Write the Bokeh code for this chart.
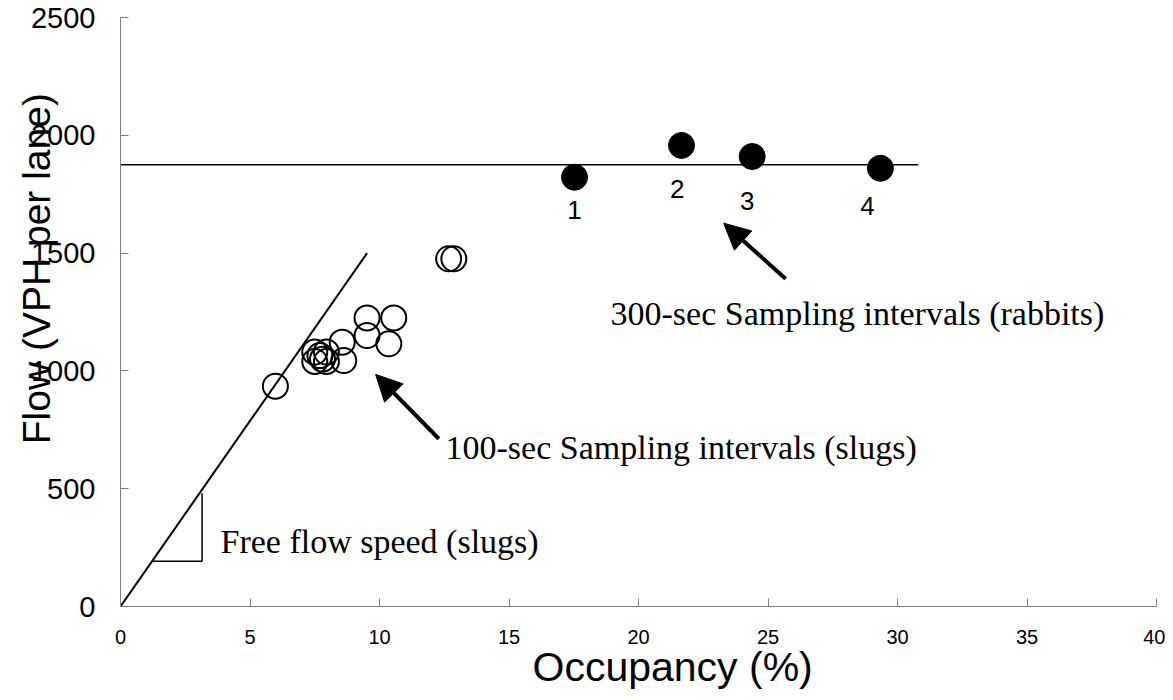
from bokeh.plotting import figure
from bokeh.models import Label, Arrow, NormalHead, Range1d, FixedTicker, ColumnDataSource, Title
from bokeh.core.properties import value
from bokeh.embed import file_html
from bokeh.resources import INLINE

# ---- data ----
slug_occ = [5.98, 7.5, 7.5, 7.95, 7.95, 7.7, 7.8, 8.56, 8.62, 9.52, 9.52, 10.55, 10.36, 12.67, 12.87]
slug_flow = [935, 1080, 1040, 1080, 1040, 1065, 1050, 1122, 1044, 1225, 1150, 1225, 1115, 1476, 1476]

rabbit_occ = [17.53, 21.66, 24.39, 29.34]
rabbit_flow = [1822, 1957, 1910, 1860]
rabbit_ids = ["1", "2", "3", "4"]
id_occ = [17.53, 21.5, 24.2, 28.84]
id_flow = [1681, 1774, 1723, 1702]

capacity_occ = [0, 30.8]
capacity_flow = [1875, 1875]

ffs_occ = [0, 9.52]
ffs_flow = [0, 1500]

tri_occ = [1.22, 3.15, 3.15]
tri_flow = [192, 192, 481]

x_ticks = [0, 5, 10, 15, 20, 25, 30, 35, 40]
y_ticks = [0, 500, 1000, 1500, 2000, 2500]

x_title = "Occupancy (%)"
y_title = "Flow (VPH per lane)"

# annotation anchors (data units)
slug_arrow = dict(x_start=12.29, y_start=712, x_end=9.85, y_end=985)
rabbit_arrow = dict(x_start=25.68, y_start=1391, x_end=23.29, y_end=1627)
notes = [
    ("300-sec Sampling intervals (rabbits)", 18.92, 1244),
    ("100-sec Sampling intervals (slugs)", 12.55, 675),
    ("Free flow speed (slugs)", 3.86, 275),
]

SANS = "Liberation Sans"
SERIF = "Liberation Serif"
NBSP = "\u00a0"

p = figure(width=1165, height=694,
           x_range=Range1d(0, 40), y_range=Range1d(0, 2500),
           output_backend="svg", toolbar_location=None,
           min_border_left=120, min_border_right=9,
           min_border_top=17, min_border_bottom=88)
p.grid.visible = False
p.outline_line_color = None
p.background_fill_color = "white"
p.border_fill_color = "white"

for ax, ticks in ((p.xaxis, x_ticks), (p.yaxis, y_ticks)):
    ax.ticker = FixedTicker(ticks=ticks)
    ax.minor_tick_line_color = None
    ax.axis_line_color = "#808080"
    ax.major_tick_line_color = "#808080"
    ax.major_tick_in = 8
    ax.major_tick_out = 0
    ax.major_label_text_font = SANS
    ax.major_label_text_color = "black"

p.xaxis.major_label_text_font_size = "20px"
p.xaxis.major_label_standoff = 23
p.yaxis.major_label_text_font_size = "29px"
p.yaxis.major_label_standoff = 25

# y title overlapping the tick labels and sitting above the frame centre, as in the reference
p.yaxis.axis_label = NBSP * 8 + y_title
p.yaxis.axis_label_text_font = SANS
p.yaxis.axis_label_text_font_style = "normal"
p.yaxis.axis_label_text_font_size = "39px"
p.yaxis.axis_label_text_color = "black"
p.yaxis.axis_label_standoff = -30

# x title
p.add_layout(Title(text=x_title, align="left", offset=412, text_font=SANS,
                   text_font_style="normal", text_font_size="41px",
                   text_color="black", standoff=-10), "below")

# lines
p.line(capacity_occ, capacity_flow, line_color="black", line_width=1.5)
p.line(ffs_occ, ffs_flow, line_color="black", line_width=2)
p.line(tri_occ, tri_flow, line_color="black", line_width=1.5)

# points
p.scatter(slug_occ, slug_flow, marker="circle", size=25,
          fill_color=None, line_color="black", line_width=2)
p.scatter(rabbit_occ, rabbit_flow, marker="circle", size=26,
          fill_color="black", line_color="black")

src = ColumnDataSource(dict(x=id_occ, y=id_flow, t=rabbit_ids))
p.text(x="x", y="y", text="t", source=src, text_font=value(SANS),
       text_font_size="26px", text_align="center", text_baseline="middle",
       text_color="black")

# arrows
for a in (slug_arrow, rabbit_arrow):
    p.add_layout(Arrow(end=NormalHead(size=26, fill_color="black", line_color="black"),
                       line_color="black", line_width=4, **a))

for t, x, y in notes:
    p.add_layout(Label(x=x, y=y, text=t, text_font=SERIF, text_font_size="34px",
                       text_align="left", text_baseline="middle", text_color="black"))

open("out.html", "w").write(file_html(p, INLINE))
